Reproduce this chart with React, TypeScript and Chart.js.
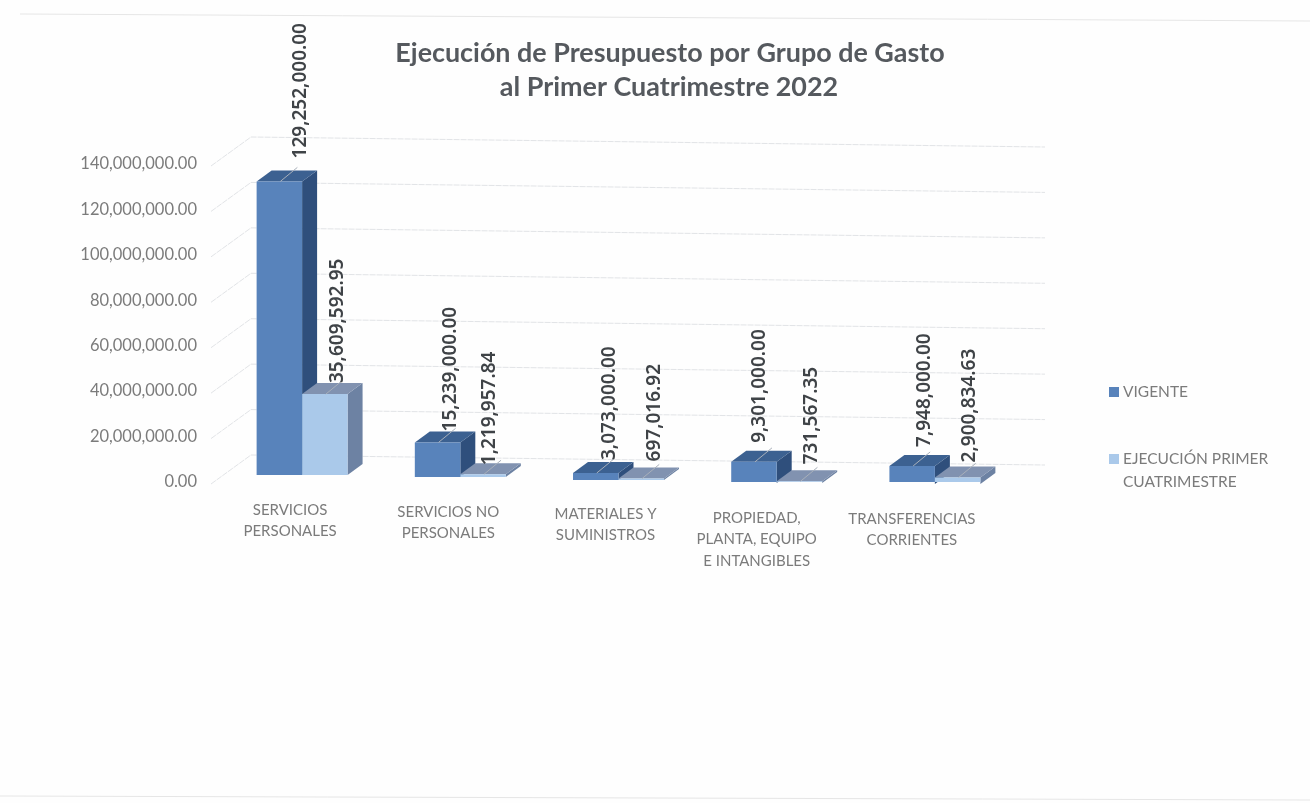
import React, { useEffect, useRef } from "react";
import { Chart, registerables } from "chart.js";

Chart.register(...registerables);

const categories = [
  ["SERVICIOS", "PERSONALES"],
  ["SERVICIOS NO", "PERSONALES"],
  ["MATERIALES Y", "SUMINISTROS"],
  ["PROPIEDAD,", "PLANTA, EQUIPO", "E INTANGIBLES"],
  ["TRANSFERENCIAS", "CORRIENTES"],
];
const vigente = [129252000.0, 15239000.0, 3073000.0, 9301000.0, 7948000.0];
const ejecucion = [35609592.95, 1219957.84, 697016.92, 731567.35, 2900834.63];
const titleLines = ["Ejecución de Presupuesto por Grupo de Gasto", "al Primer Cuatrimestre 2022"];
const legendNames = ["VIGENTE", ["EJECUCIÓN PRIMER", "CUATRIMESTRE"]];

// Styling of the pseudo-3D look
const UI = "Lato, 'Noto Sans', sans-serif";
const GREY = "#7b7b7b";
const DEPTH_X = 15;
const DEPTH_Y = 11;
const baseSkew = [-7, -5, -2, 1, 2];
const labelShiftX = [-12, -12, -13, -20, -23];
const labelTopY = [516, 518, 520, 524, 525];
const palette = [
  { front: "#5883bb", side: "#2f4f7c", top: "#3c6191" },
  { front: "#aac9ea", side: "#6d82a3", top: "#8192b0" },
];
const valueNudge = [
  [[8, -3], [0, 9], [1, 7], [-7, 1], [-1, 1]],
  [[0, 9], [-6, 11], [0, 3], [-1, 3], [-1, 5]],
];

const fmt = (v: number) =>
  v.toLocaleString("en-US", { minimumFractionDigits: 2, maximumFractionDigits: 2 });

const face = (ctx: CanvasRenderingContext2D, pts: number[][], fill: string) => {
  ctx.beginPath();
  pts.forEach(([x, y], i) => (i ? ctx.lineTo(x, y) : ctx.moveTo(x, y)));
  ctx.closePath();
  ctx.fillStyle = fill;
  ctx.fill();
};

const look3d = {
  id: "look3d",
  afterDatasetsUpdate(chart: any) {
    chart.data.datasets.forEach((_: any, d: number) => {
      chart.getDatasetMeta(d).data.forEach((el: any, i: number) => {
        el.y += baseSkew[i];
        el.base += baseSkew[i];
      });
    });
  },
  beforeDraw(chart: any) {
    const { ctx, scales, chartArea } = chart;
    ctx.save();
    ctx.fillStyle = "#fefefe";
    ctx.fillRect(0, 0, chart.width, chart.height);
    // paper edges of the scan
    ctx.strokeStyle = "#e6e6e6";
    ctx.lineWidth = 1;
    ctx.beginPath();
    ctx.moveTo(20, 14);
    ctx.lineTo(1310, 21);
    ctx.moveTo(0, 796);
    ctx.lineTo(1310, 800);
    ctx.stroke();
    // back wall grid, one line per tick of the value axis
    ctx.strokeStyle = "#e2e4e7";
    ctx.setLineDash([6, 1]);
    scales.y.ticks.forEach((t: any) => {
      const y = scales.y.getPixelForValue(t.value);
      ctx.beginPath();
      ctx.moveTo(chartArea.left - 12, y + 2);
      ctx.lineTo(chartArea.left + 28, y - 27);
      ctx.lineTo(chartArea.right + 31, y - 17);
      ctx.stroke();
    });
    ctx.restore();
  },
  beforeDatasetsDraw(chart: any) {
    const { ctx } = chart;
    chart.data.datasets.forEach((_: any, d: number) => {
      const c = palette[d];
      chart.getDatasetMeta(d).data.forEach((el: any) => {
        const l = el.x - el.width / 2;
        const r = el.x + el.width / 2;
        face(ctx, [[r, el.y], [r + DEPTH_X, el.y - DEPTH_Y], [r + DEPTH_X, el.base - DEPTH_Y], [r, el.base]], c.side);
        face(ctx, [[l, el.y], [l + DEPTH_X, el.y - DEPTH_Y], [r + DEPTH_X, el.y - DEPTH_Y], [r, el.y]], c.top);
      });
    });
  },
  afterDatasetsDraw(chart: any) {
    const { ctx } = chart;
    ctx.save();
    chart.data.datasets.forEach((ds: any, d: number) => {
      chart.getDatasetMeta(d).data.forEach((el: any, i: number) => {
        ctx.strokeStyle = "#a9b0ba";
        ctx.lineWidth = 1;
        ctx.beginPath();
        ctx.moveTo(el.x + 1, el.y);
        ctx.lineTo(el.x + 18, el.y - 14);
        ctx.stroke();
        const [nx, ny] = valueNudge[d][i];
        ctx.save();
        ctx.translate(el.x + 13 + nx, el.y - 20 + ny);
        ctx.rotate(-Math.PI / 2);
        ctx.font = "600 19px 'Noto Sans', sans-serif";
        ctx.fillStyle = "#3f4347";
        ctx.textAlign = "left";
        ctx.textBaseline = "middle";
        ctx.fillText(fmt(ds.data[i]), 0, 0);
        ctx.restore();
      });
    });
    ctx.restore();
  },
  afterDraw(chart: any) {
    const { ctx, scales } = chart;
    ctx.save();
    // Title
    ctx.font = `700 26.9px ${UI}`;
    ctx.fillStyle = "#55595e";
    ctx.textAlign = "center";
    ctx.textBaseline = "middle";
    titleLines.forEach((t, i) => ctx.fillText(t, i ? 669 : 670, 53 + i * 34));
    // Category labels
    ctx.font = `15px ${UI}`;
    ctx.fillStyle = GREY;
    chart.data.labels.forEach((lab: string[], i: number) => {
      lab.forEach((line, j) => {
        ctx.fillText(line, scales.x.getPixelForValue(i) + labelShiftX[i], labelTopY[i] - 6 + j * 21.5);
      });
    });
    // Legend
    ctx.font = `15.5px ${UI}`;
    ctx.textAlign = "left";
    const ys = [392, 459];
    chart.data.datasets.forEach((ds: any, d: number) => {
      ctx.fillStyle = palette[d].front;
      ctx.fillRect(1109, ys[d] - 5, 10, 10);
      ctx.fillStyle = GREY;
      const name = legendNames[d];
      (Array.isArray(name) ? name : [name]).forEach((line, j) => {
        ctx.fillText(line, 1123, ys[d] + j * 23);
      });
    });
    ctx.restore();
  },
};

export default function App() {
  const ref = useRef<HTMLCanvasElement>(null);
  useEffect(() => {
    const chart = new Chart(ref.current!, {
      type: "bar",
      data: {
        labels: categories as any,
        datasets: [
          { label: "VIGENTE", data: vigente, backgroundColor: palette[0].front },
          { label: "EJECUCIÓN PRIMER CUATRIMESTRE", data: ejecucion, backgroundColor: palette[1].front },
        ],
      },
      options: {
        responsive: false,
        animation: false,
        layout: { padding: { top: 164, bottom: 321, left: 0, right: 296 } },
        datasets: { bar: { barPercentage: 1, categoryPercentage: 0.575 } },
        scales: {
          x: { display: false },
          y: {
            min: 0,
            max: 140000000,
            border: { display: false },
            grid: { display: false, drawTicks: false },
            ticks: {
              stepSize: 20000000,
              padding: 26,
              color: GREY,
              font: { family: UI, size: 16.5 },
              callback: (v: any) => fmt(Number(v)),
            },
            afterFit: (s: any) => {
              s.width = 223;
            },
          },
        },
        plugins: { legend: { display: false }, title: { display: false }, tooltip: { enabled: false } },
      },
      plugins: [look3d],
    } as any);
    return () => chart.destroy();
  }, []);
  return (
    <canvas
      ref={ref}
      width={1310}
      height={803}
      style={{ position: "fixed", left: 0, top: 0, display: "block" }}
    />
  );
}
